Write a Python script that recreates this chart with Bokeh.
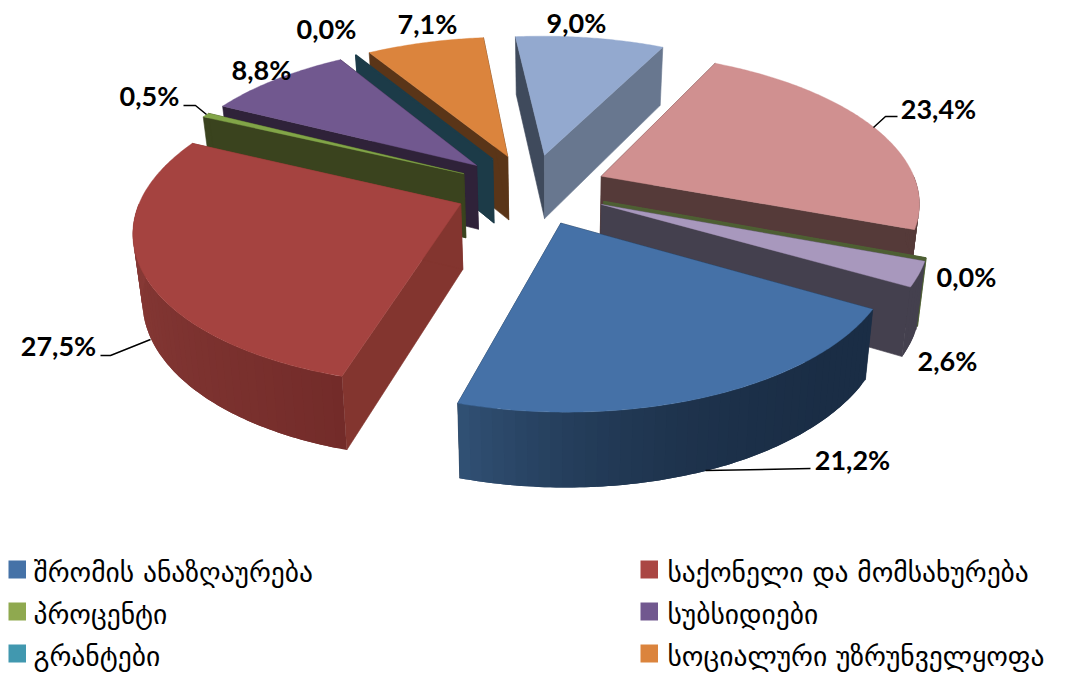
import numpy as np
from bokeh.plotting import figure
from bokeh.models import Range1d
from bokeh.core.properties import value
from bokeh.embed import file_html
from bokeh.resources import INLINE

# ---- data, clockwise around the pie starting at the blue slice
values = [21.2, 27.5, 0.5, 8.8, 0.0, 7.1, 9.0, 23.4, 0.0, 2.6]
value_labels = ["21,2%", "27,5%", "0,5%", "8,8%", "0,0%", "7,1%", "9,0%", "23,4%", "0,0%", "2,6%"]
legend_names = ["შრომის ანაზღაურება", "საქონელი და მომსახურება", "პროცენტი",
                "სუბსიდიები", "გრანტები", "სოციალური უზრუნველყოფა"]

# ---- styles
top_colors = ["#4571a7", "#a54340", "#82a548", "#71588f", "#4198af", "#db843d",
              "#93a9cf", "#d09090", "#566b34", "#a898bd"]
legend_colors = ["#4572a7", "#aa4643", "#8fa94f", "#71588f", "#4198af", "#db843d"]
face_start = ["#1c2f46", "#83352f", "#3a431e", "#2f2239", "#1c3b48", "#5a3518",
              "#3f4a5c", "#553a39", "#4e5f33", "#44404e"]
face_end = ["#1c2f46", "#83352f", "#3a431e", "#2f2239", "#1c3b48", "#5a3518",
            "#68778f", "#553a39", "#4e5f33", "#44404e"]
side_a = ["#1a2d45", "#722b29", "#3a431e", "#2f2239", "#1c3b48", "#5a3518",
          "#566278", "#553a39", "#4e5f33", "#44404e"]
side_b = ["#315175", "#8e3e3a", "#3a431e", "#2f2239", "#1c3b48", "#5a3518",
          "#566278", "#553a39", "#4e5f33", "#44404e"]
side_pow = [3.0, 0.8, 1, 1, 1, 1, 1, 1, 1, 1]

# ---- projection of the tilted, exploded pie
CX, CY, R, K, PERSP, EXPLODE, START = 530.816, 188.506, 316.77, 0.4656, 0.1565, 0.2407, 0.5231

frac = np.concatenate([[0], np.cumsum(values)]) / sum(values) * 2 * np.pi
a0 = START + frac[:-1]
a1 = START + frac[1:]


def top_pt(i, a, r):
    m = (a0[i] + a1[i]) / 2
    X = EXPLODE * np.cos(m) + r * np.cos(a)
    Y = EXPLODE * np.sin(m) + r * np.sin(a)
    w = 1 - PERSP * Y
    return CX + R * X / w, CY + R * K * Y / w


def bottom(pt):
    x, y = pt
    return 550 + (x - 550) * 0.977, y * 1.047 + 56


def mix(c1, c2, t):
    a = [int(c1[j:j + 2], 16) for j in (1, 3, 5)]
    b = [int(c2[j:j + 2], 16) for j in (1, 3, 5)]
    return "#%02x%02x%02x" % tuple(int(round(u + (v - u) * t)) for u, v in zip(a, b))


p = figure(width=1073, height=680, x_range=Range1d(0, 1073), y_range=Range1d(680, 0),
           output_backend="svg", toolbar_location=None, min_border=0)
p.axis.visible = False
p.grid.visible = False
p.outline_line_color = None
p.background_fill_color = "white"


def poly(pts, color, lw=0.6):
    p.patch([q[0] for q in pts], [q[1] for q in pts], fill_color=color,
            line_color=color if lw else None, line_width=lw or 1)


order = sorted(range(len(values)), key=lambda i: top_pt(i, 0, 0)[1])
for i in order:
    apex = top_pt(i, 0, 0)
    s_pt, e_pt = top_pt(i, a0[i], 1), top_pt(i, a1[i], 1)
    # cut faces
    poly([apex, s_pt, bottom(s_pt), bottom(apex)], face_start[i])
    poly([apex, e_pt, bottom(e_pt), bottom(apex)], face_end[i])
    # outer wall: only the part that looks at the viewer, as shaded bands
    span = a1[i] - a0[i]
    n = max(int(span / 0.03), 1)
    ts = np.linspace(0, 1, n + 1)
    for j in range(n):
        t_a, t_b = ts[j], ts[min(j + 2, n)]
        angs = a0[i] + span * np.linspace(t_a, t_b, 5)
        angs = angs[np.sin(angs) > -0.01]
        if len(angs) < 2:
            continue
        up = [top_pt(i, a, 1) for a in angs]
        poly(up + [bottom(q) for q in up[::-1]],
             mix(side_a[i], side_b[i], ((ts[j] + ts[j + 1]) / 2) ** side_pow[i]), 0)
    # top
    arc = [top_pt(i, a, 1) for a in np.linspace(a0[i], a1[i], max(int(span / 0.01), 2))]
    poly([apex] + arc, top_colors[i], 0.4)
    if values[i] == 0:
        p.line([apex[0], s_pt[0]], [apex[1], s_pt[1]], line_color=face_start[i], line_width=2)

# ---- leader lines
leaders = [[(705, 470), (810, 468)],
           [(100, 355), (110, 355), (150, 339)],
           [(897, 116), (885, 116), (873, 127)],
           [(183, 105), (195, 105), (206, 114)]]
for ln in leaders:
    p.line([q[0] for q in ln], [q[1] for q in ln], line_color="black", line_width=1.5)

# ---- value labels
lab_x = [852, 58, 149, 261, 326, 427, 576, 938, 966, 947]
lab_y = [458.5, 344.5, 94.5, 68.5, 27.5, 22.5, 21.5, 107.5, 275.5, 359.5]
p.text(lab_x, lab_y, text=value_labels, text_font=value("Lato"), text_font_style="bold",
       text_font_size="27px", text_align="center", text_baseline="middle", text_color="black")

# ---- legend
leg_x = [8, 640, 8, 640, 8, 640]
leg_y = [560, 560, 602, 602, 644, 644]
p.quad(left=leg_x, right=[x + 17.5 for x in leg_x], top=leg_y, bottom=[y + 18 for y in leg_y],
       fill_color=legend_colors, line_color=None)
p.text([x + 25 if x < 100 else x + 27 for x in leg_x], [y + 11 for y in leg_y], text=legend_names,
       text_font=value("DejaVu Sans"), text_font_size="27.5px", text_align="left",
       text_baseline="alphabetic", text_color="black")

open("out.html", "w").write(file_html(p, INLINE))
